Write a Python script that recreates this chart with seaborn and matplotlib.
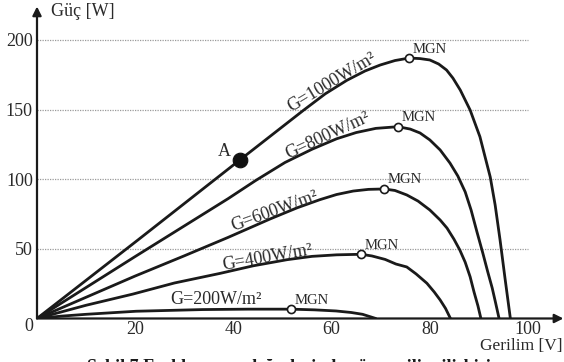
import matplotlib
matplotlib.use("Agg")
import matplotlib.pyplot as plt
import seaborn as sns
import pandas as pd

# Güç-gerilim eğrileri
v1000 = [0, 20.6, 41.3, 54.2, 58.7, 63.1, 66.8, 69.9, 72.9, 75.8, 78.0, 80.0, 81.8, 83.4, 84.7, 86.2,
         88.2, 90.2, 91.2, 92.3, 93.3, 94.3, 95.3, 96.4]
p1000 = [0, 56.5, 113.8, 149.3, 161.3, 171, 177.7, 182, 185.2, 187, 186.6, 185.6, 182.7, 178.4, 172.6, 164,
         149.7, 130.5, 116.7, 101.6, 81.5, 56.4, 29.1, 0]
v800 = [0, 20, 38.9, 44.5, 50.5, 56, 61, 65, 69, 73.5, 76.0, 78.0, 80.0, 82.1, 84.1, 85.7,
        87.2, 88.4, 89.6, 90.8, 91.8, 92.7, 93.4, 94.1]
p800 = [0, 44.5, 86, 99, 112, 121.5, 129, 133.5, 136.5, 137.7, 136.0, 133.2, 128.2, 121, 111.6, 102.3,
        90.9, 77.9, 62.1, 46.8, 33.4, 21.9, 11.1, 0]
v600 = [0, 20, 30, 38.9, 47.5, 53, 57.6, 61, 64.4, 67.5, 70.7, 72.9, 75.3, 77.6, 80.0, 82.1, 83.5,
        84.9, 86.1, 87.2, 88.2, 89.0, 89.8, 90.4]
p600 = [0, 30.5, 45, 58.2, 71.5, 79.5, 85.3, 89, 91.5, 92.7, 93, 91.9, 88.7, 84.3, 77.9, 70.7, 64.9,
        57.0, 49.2, 40.4, 30.0, 19.0, 9.0, 0]
v400 = [0, 10, 19.5, 28, 37.3, 44, 50.9, 56, 61, 66.0, 68.2, 70.9, 73.1, 75.3, 77.2, 79.4, 80.9,
        82.1, 83.2, 84.2]
p400 = [0, 9.5, 17.5, 25.5, 32.4, 37.8, 42.2, 44.6, 45.7, 46.1, 44.9, 42.4, 39.1, 37.0, 32.0, 25.3, 19.0,
        13.3, 7.2, 0]
v200 = [0, 5, 10, 20.2, 33.7, 43, 51.7, 56.5, 60.9, 64, 66.3, 69.0]
p200 = [0, 1.7, 3, 5.2, 6.4, 6.7, 6.7, 6.2, 5.4, 4.3, 3, 0]

curve_names = ["G=1000W/m²", "G=800W/m²", "G=600W/m²", "G=400W/m²", "G=200W/m²"]
curve_v = [v1000, v800, v600, v400, v200]
curve_p = [p1000, p800, p600, p400, p200]

# maksimum güç noktaları (MGN) ve A noktası
mgn_v = [75.8, 73.5, 70.7, 66.0, 51.7]
mgn_p = [187, 137.7, 93, 46.1, 6.7]
a_v = [41.3]
a_p = [113.8]

# eğri etiketleri: (V, P, açı)
label_pos = [(60.1, 169.8, 31), (59.1, 131.6, 25), (48.3, 77.2, 20), (47.0, 43.4, 10), (36.4, 13.3, 0)]

xticks = [20, 40, 60, 80, 100]
yticks = [50, 100, 150, 200]

sns.set_style("white")
plt.rcParams["font.family"] = ["Liberation Serif", "DejaVu Serif"]

df = pd.concat(
    [pd.DataFrame({"V": v, "P": p, "G": n}) for n, v, p in zip(curve_names, curve_v, curve_p)],
    ignore_index=True,
)

fig = plt.figure(figsize=(5.64, 3.62), dpi=100)
ax = fig.add_axes([0.0656, 0.1202, 0.9316, 0.858])
txt = "#2a2a2a"

# yatay noktalı kılavuz çizgileri
ax.hlines(yticks, 0, 100, colors="#9a9a9a", linestyles=(0, (1, 1)), linewidth=0.9, zorder=1)

sns.lineplot(data=df, x="V", y="P", units="G", estimator=None, sort=False,
             color="#1a1a1a", linewidth=2.0, ax=ax, zorder=3, legend=False)

sns.scatterplot(x=mgn_v, y=mgn_p, s=34, marker="o", facecolor="white",
                edgecolor="#1a1a1a", linewidth=1.2, ax=ax, zorder=5)
sns.scatterplot(x=a_v, y=a_p, s=110, marker="o", color="#111111",
                edgecolor="#111111", ax=ax, zorder=5)

for v, p in zip(mgn_v, mgn_p):
    ax.annotate("MGN", (v, p), xytext=(21, 9), textcoords="offset pixels",
                ha="center", va="center", fontsize=10.5, color=txt)
ax.annotate("A", (a_v[0], a_p[0]), xytext=(-15, 8), textcoords="offset pixels",
            ha="center", va="center", fontsize=13, color=txt)

for name, (x, y, rot) in zip(curve_names, label_pos):
    ax.text(x, y, name, rotation=rot, rotation_mode="anchor", ha="center", va="center",
            fontsize=13, color=txt)

ax.set_xlim(0, 107)
ax.set_ylim(0, 223)
for s in ax.spines.values():
    s.set_visible(False)

# oklu eksenler
ax.annotate("", xy=(0, 224), xytext=(0, 0), annotation_clip=False,
            arrowprops=dict(arrowstyle="-|>", color="#1a1a1a", lw=1.6, mutation_scale=13, shrinkA=0, shrinkB=0))
ax.annotate("", xy=(107.2, 0), xytext=(0, 0), annotation_clip=False,
            arrowprops=dict(arrowstyle="-|>", color="#1a1a1a", lw=1.6, mutation_scale=13, shrinkA=0, shrinkB=0))

ax.set_xticks(xticks)
ax.set_xticklabels([str(t) for t in xticks])
ax.set_yticks(yticks)
ax.set_yticklabels([str(t) for t in yticks])
ax.tick_params(axis="x", direction="in", length=4, width=0.8, color="#555555", pad=2,
               labelsize=13, labelcolor=txt)
ax.tick_params(axis="y", length=0, pad=3, labelsize=13, labelcolor=txt)
ax.set_xlabel("")
ax.set_ylabel("")

ax.text(-1.6, -5.5, "0", ha="center", va="center", fontsize=13, color=txt)
ax.text(2.9, 220.3, "Güç [W]", ha="left", va="center", fontsize=13, color=txt)
ax.text(107.1, -22.3, "Gerilim [V]", ha="right", va="baseline", fontsize=12.5, color=txt)

# alt kısımda kesilmiş şekil başlığı
fig.text(0.512, -0.028, "Şekil 7 Farklı ışınım değerlerinde güç-gerilim ilişkisi",
         ha="center", va="baseline", fontsize=13, fontweight="bold", color="#1a1a1a")

fig.savefig("out.png", dpi=100)
